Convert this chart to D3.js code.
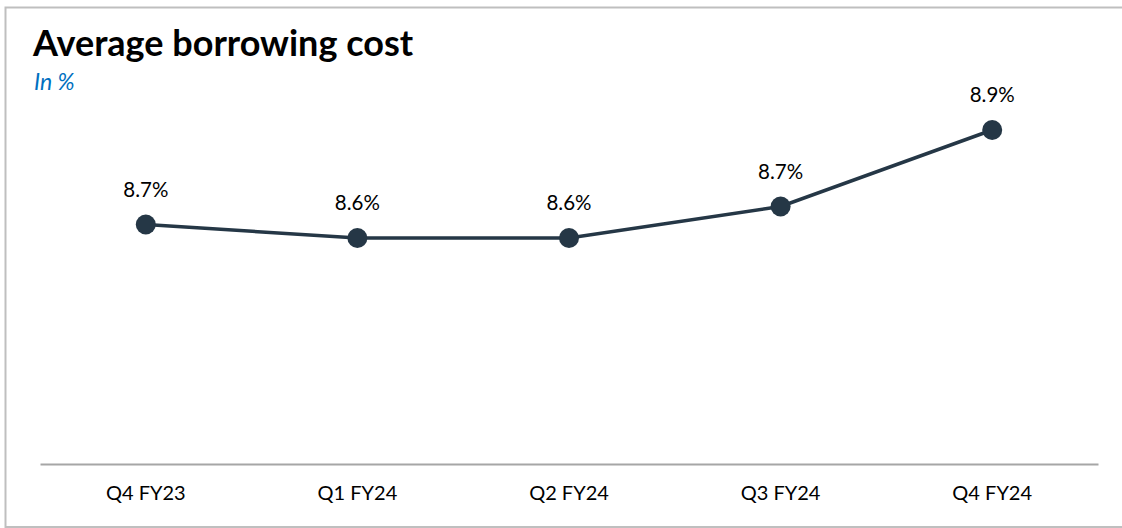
<!DOCTYPE html>
<html>
<head>
<meta charset="utf-8">
<script src="https://cdn.jsdelivr.net/npm/d3@7"></script>
<style>
  body { margin: 0; background: #fff; overflow: hidden; }
  svg { display: block; }
  text { font-family: Lato, "Open Sans", sans-serif; }
</style>
</head>
<body>
<div id="chart"></div>
<script>
var svgWidth = 1122;
var svgHeight = 528;

// chart data
var quarters = ["Q4 FY23", "Q1 FY24", "Q2 FY24", "Q3 FY24", "Q4 FY24"];
var borrowCost = [8.67, 8.64, 8.64, 8.71, 8.88];

var svg = d3.select("#chart")
  .append("svg")
  .attr("width", svgWidth)
  .attr("height", svgHeight);

// frame (right side runs off the picture)
svg.append("rect")
  .attr("x", 5.5)
  .attr("y", 7.5)
  .attr("width", 1130)
  .attr("height", 519.5)
  .attr("fill", "none")
  .attr("stroke", "#bfbfbf")
  .attr("stroke-width", 2);

// title + subtitle
svg.append("text")
  .attr("x", 33)
  .attr("y", 56)
  .attr("font-size", 36)
  .attr("font-weight", "bold")
  .attr("fill", "#000")
  .text("Average borrowing cost");

svg.append("text")
  .attr("x", 34)
  .attr("y", 90)
  .attr("font-size", 23)
  .attr("font-style", "italic")
  .attr("fill", "#0070c0")
  .text("In %");

var xScale = d3.scaleBand()
  .domain(quarters)
  .range([40, 1098]);

var yScale = d3.scaleLinear()
  .domain([8.14, 8.9])
  .range([463, 121]);

// x axis
var xAxis = svg.append("g")
  .attr("transform", "translate(0, 464)")
  .call(d3.axisBottom(xScale).tickSize(0).tickPadding(22));

xAxis.select(".domain")
  .attr("stroke", "#a6a6a6")
  .attr("stroke-width", 2);

xAxis.selectAll("text")
  .attr("font-size", 20)
  .attr("fill", "#000")
  .style("font-family", "Lato, 'Open Sans', sans-serif");

var cx = function(d, i) { return xScale(quarters[i]) + xScale.bandwidth() / 2; };

var line = d3.line()
  .x(function(d, i) { return cx(d, i); })
  .y(function(d) { return yScale(d); });

svg.append("path")
  .datum(borrowCost)
  .attr("d", line)
  .attr("fill", "none")
  .attr("stroke", "#253746")
  .attr("stroke-width", 3.5);

svg.selectAll("circle.pt")
  .data(borrowCost)
  .enter()
  .append("circle")
  .attr("class", "pt")
  .attr("cx", cx)
  .attr("cy", function(d) { return yScale(d); })
  .attr("r", 10)
  .attr("fill", "#253746");

// value labels
svg.selectAll("text.lbl")
  .data(borrowCost)
  .enter()
  .append("text")
  .attr("class", "lbl")
  .attr("x", cx)
  .attr("y", function(d) { return yScale(d) - 28; })
  .attr("text-anchor", "middle")
  .attr("font-size", 20.5)
  .attr("fill", "#000")
  .text(function(d) { return d.toFixed(1) + "%"; });
</script>
</body>
</html>
